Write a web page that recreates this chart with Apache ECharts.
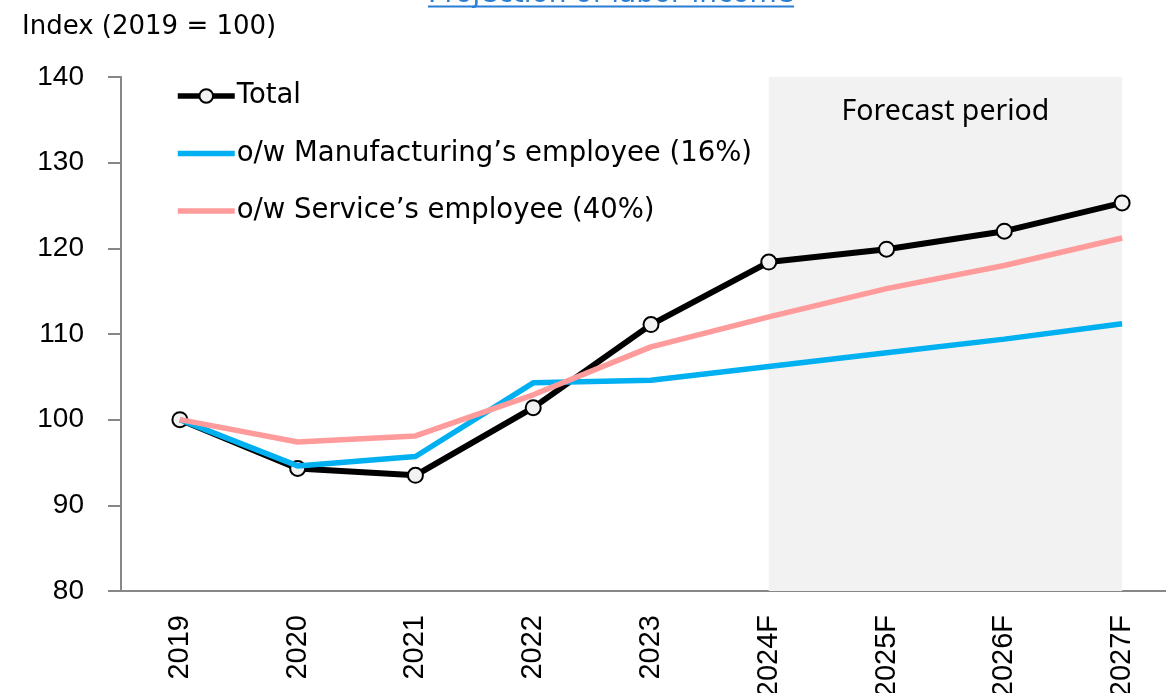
<!DOCTYPE html>
<html>
<head>
<meta charset="utf-8">
<title>Projection of labor income</title>
<script src="https://cdn.jsdelivr.net/npm/echarts@6/dist/echarts.min.js"></script>
<style>
  html, body { margin: 0; padding: 0; background: #ffffff; }
  #chart { width: 1166px; height: 693px; }
</style>
</head>
<body>
<div id="chart"></div>
<script>
// Labour income index, 2019 = 100 (F = forecast years)
const years = ['2019', '2020', '2021', '2022', '2023', '2024F', '2025F', '2026F', '2027F'];
const totalIncome = [100, 94.3, 93.5, 101.4, 111.1, 118.4, 119.9, 122.0, 125.3];
const manufacturingIncome = [100, 94.6, 95.7, 104.3, 104.6, 106.2, 107.8, 109.4, 111.2];
const serviceIncome = [100, 97.4, 98.1, 102.9, 108.5, 112.0, 115.3, 118.0, 121.2];
const yTicks = { min: 80, max: 140, interval: 10 };
const forecastStart = '2024F';
const forecastEnd = '2027F';

const seriesNames = ['Total', 'o/w Manufacturing\u2019s employee (16%)', 'o/w Service\u2019s employee (40%)'];

const textFont = 'DejaVu Sans';
const numFont = 'Liberation Sans';

const chart = echarts.init(document.getElementById('chart'), null, { renderer: 'canvas' });

chart.setOption({
  animation: false,
  backgroundColor: '#ffffff',
  title: [
    {
      text: 'Projection of labor income',
      left: 428,
      top: -19,
      padding: 0,
      textStyle: { fontFamily: textFont, fontSize: 28, fontWeight: 'normal', color: '#2B7FD3' }
    },
    {
      text: 'Index (2019 = 100)',
      left: 17,
      top: 9,
      textStyle: { fontFamily: textFont, fontSize: 26, fontWeight: 'normal', color: '#000000' }
    }
  ],
  graphic: [
    {
      // underline under the linked title
      type: 'line',
      shape: { x1: 428, y1: 6.5, x2: 794, y2: 6.5 },
      style: { stroke: '#2B7FD3', lineWidth: 2 },
      silent: true
    }
  ],
  legend: {
    orient: 'vertical',
    left: 175,
    top: 82,
    padding: 0,
    itemWidth: 57,
    itemHeight: 17,
    itemGap: 29.5,
    lineStyle: { width: 5.5 },
    textStyle: { fontFamily: textFont, fontSize: 27.5, lineHeight: 17, color: '#000000', padding: [0, 0, 0, -3] },
    data: [
      { name: seriesNames[0], itemStyle: { borderWidth: 2 } },
      { name: seriesNames[1], itemStyle: { opacity: 0 } },
      { name: seriesNames[2], itemStyle: { opacity: 0 } }
    ]
  },
  grid: { left: 121, width: 1060, top: 77, bottom: 102, containLabel: false, outerBoundsMode: 'none' },
  xAxis: {
    type: 'category',
    data: years,
    boundaryGap: true,
    axisLine: { lineStyle: { color: '#878787', width: 2 } },
    axisTick: { show: false },
    axisLabel: { rotate: 90, margin: 24, fontFamily: numFont, fontSize: 29, color: '#000000' },
    splitLine: { show: false }
  },
  yAxis: {
    type: 'value',
    min: yTicks.min,
    max: yTicks.max,
    interval: yTicks.interval,
    axisLine: { show: true, lineStyle: { color: '#878787', width: 2 } },
    axisTick: { show: true, inside: false, length: 13, lineStyle: { color: '#878787', width: 2 } },
    axisLabel: { margin: 37, fontFamily: numFont, fontSize: 28, color: '#000000' },
    splitLine: { show: false }
  },
  series: [
    {
      name: seriesNames[0],
      type: 'line',
      data: totalIncome,
      z: 2,
      symbol: 'circle',
      symbolSize: 15,
      showSymbol: true,
      lineStyle: { color: '#000000', width: 6 },
      itemStyle: { color: '#F2F2F2', borderColor: '#000000', borderWidth: 2 },
      markArea: {
        silent: true,
        itemStyle: { color: '#F2F2F2' },
        label: {
          show: true,
          position: 'insideTop',
          distance: 20,
          fontFamily: 'Noto Sans',
          fontSize: 28.5,
          color: '#000000'
        },
        data: [[{ name: 'Forecast period', xAxis: forecastStart }, { xAxis: forecastEnd }]]
      }
    },
    {
      name: seriesNames[1],
      type: 'line',
      data: manufacturingIncome,
      z: 3,
      symbol: 'none',
      lineStyle: { color: '#00B0F0', width: 5.5 },
      itemStyle: { color: '#00B0F0' }
    },
    {
      name: seriesNames[2],
      type: 'line',
      data: serviceIncome,
      z: 4,
      symbol: 'none',
      lineStyle: { color: '#FF9B9B', width: 5.5 },
      itemStyle: { color: '#FF9B9B' }
    }
  ]
});
</script>
</body>
</html>
